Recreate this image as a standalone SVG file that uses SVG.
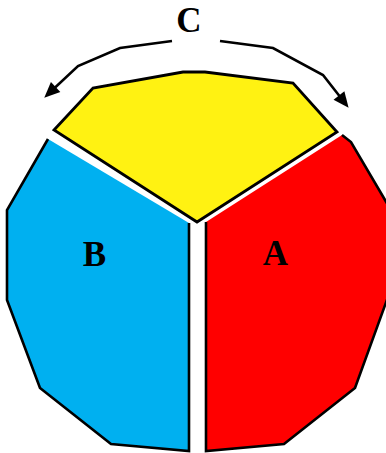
<svg xmlns="http://www.w3.org/2000/svg" width="386" height="453" viewBox="0 0 386 453">
<defs>
<style>
.edge{fill:none;stroke:#000;stroke-width:2.6;stroke-linejoin:miter}
.conn{fill:none;stroke:#000;stroke-width:2.6;stroke-linejoin:miter}
.lbl{font-family:"Liberation Serif","Times New Roman",serif;font-weight:bold;font-size:35px;fill:#000;text-anchor:middle}
</style>
<marker id="ah" markerUnits="userSpaceOnUse" markerWidth="20" markerHeight="20" viewBox="-10 -7 16 14" refX="0" refY="0" orient="auto">
<path d="M4,0 L-8.5,-5.5 L-8.5,5.5 Z" fill="#000"/>
</marker>
</defs>
<rect width="386" height="453" fill="#fff"/>
<g id="nodeC">
<polygon points="54,130 93,88 183,72 205,72 293,83 337,132 197,222" style="fill:#FFF212;stroke:#000;stroke-width:2.8"/>
<text class="lbl" x="189" y="32">C</text>
</g>
<g id="nodeB">
<polygon points="48,139 7,210 7,300 40,388 111,444 189,451 189,223" fill="#00B0F0"/>
<polyline class="edge" points="189,223 189,451 111,444 40,388 7,300 7,210 48,139"/>
<text class="lbl" x="94.5" y="266">B</text>
</g>
<g id="nodeA">
<polygon points="342,135 351,142 388,205 388,297 355,388 284,444 206,451 206,222" fill="#FF0000"/>
<polyline class="edge" points="342,135 351,142 388,205 388,297 355,388 284,444 206,451 206,222"/>
<text class="lbl" x="275.5" y="265">A</text>
</g>
<g id="connectors">
<polyline class="conn" points="172,41 120,48 78,66 47.9,94.3" marker-end="url(#ah)"/>
<polyline class="conn" points="220,41 273,48 323,75 345.5,103.8" marker-end="url(#ah)"/>
</g>
</svg>
